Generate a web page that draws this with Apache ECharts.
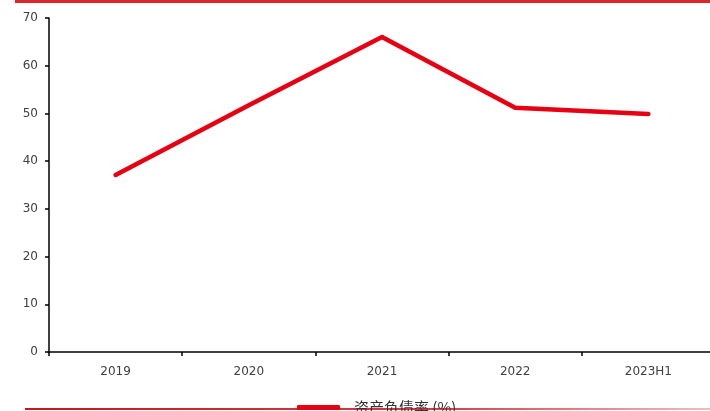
<!DOCTYPE html>
<html><head><meta charset="utf-8">
<script src="https://cdn.jsdelivr.net/npm/echarts@6/dist/echarts.min.js"></script>
<style>html,body{margin:0;padding:0;background:#fff;overflow:hidden}#c{width:716px;height:411px}</style>
</head><body><div id="c"></div>
<script>
const categories = ['2019', '2020', '2021', '2022', '2023H1'];
const debtRatio = [37.1, 51.7, 66.0, 51.2, 49.9];
const seriesName = '资产负债率 (%)';
const yTicks = [0, 10, 20, 30, 40, 50, 60, 70];

const chart = echarts.init(document.getElementById('c'), null, {renderer: 'canvas'});
chart.setOption({
  animation: false,
  backgroundColor: '#fff',
  grid: {left: 49, top: 18, right: 1, bottom: 59, containLabel: false},
  xAxis: {
    type: 'category', data: categories, boundaryGap: true,
    axisLine: {lineStyle: {color: '#000', width: 1.5}},
    axisTick: {show: true, length: 4, lineStyle: {color: '#000', width: 1.5}},
    axisLabel: {color: '#404040', fontSize: 12, margin: 14, fontFamily: 'DejaVu Sans'}
  },
  yAxis: {
    type: 'value', min: yTicks[0], max: yTicks[yTicks.length - 1], interval: 10,
    axisLine: {show: true, lineStyle: {color: '#000', width: 1.5}},
    axisTick: {show: true, inside: false, length: 4, lineStyle: {color: '#000', width: 1.5}},
    splitLine: {show: false},
    axisLabel: {color: '#404040', fontSize: 12, margin: 11, fontFamily: 'DejaVu Sans'}
  },
  legend: {
    data: [{name: seriesName, icon: 'roundRect'}],
    left: 292, top: 395, itemWidth: 43, itemHeight: 5, itemGap: 18,
    textStyle: {fontSize: 15, color: '#333', fontFamily: 'Noto Sans CJK SC', padding: [0, 0, 0, 9]}
  },
  graphic: [
    {type: 'rect', shape: {x: 15, y: 0, width: 701, height: 3}, style: {fill: '#d9272e'}},
    {type: 'rect', shape: {x: 25, y: 408, width: 691, height: 2},
     style: {fill: new echarts.graphic.LinearGradient(0, 0, 1, 0, [
       {offset: 0, color: '#c8161d'}, {offset: 0.6, color: '#d04048'}, {offset: 1, color: '#f0c0c4'}])}}
  ],
  series: [{
    name: seriesName, type: 'line', data: debtRatio,
    symbol: 'none', lineStyle: {color: '#e60012', width: 4.5, cap: 'round', join: 'round'},
    itemStyle: {color: '#e60012'}
  }]
});
</script></body></html>
